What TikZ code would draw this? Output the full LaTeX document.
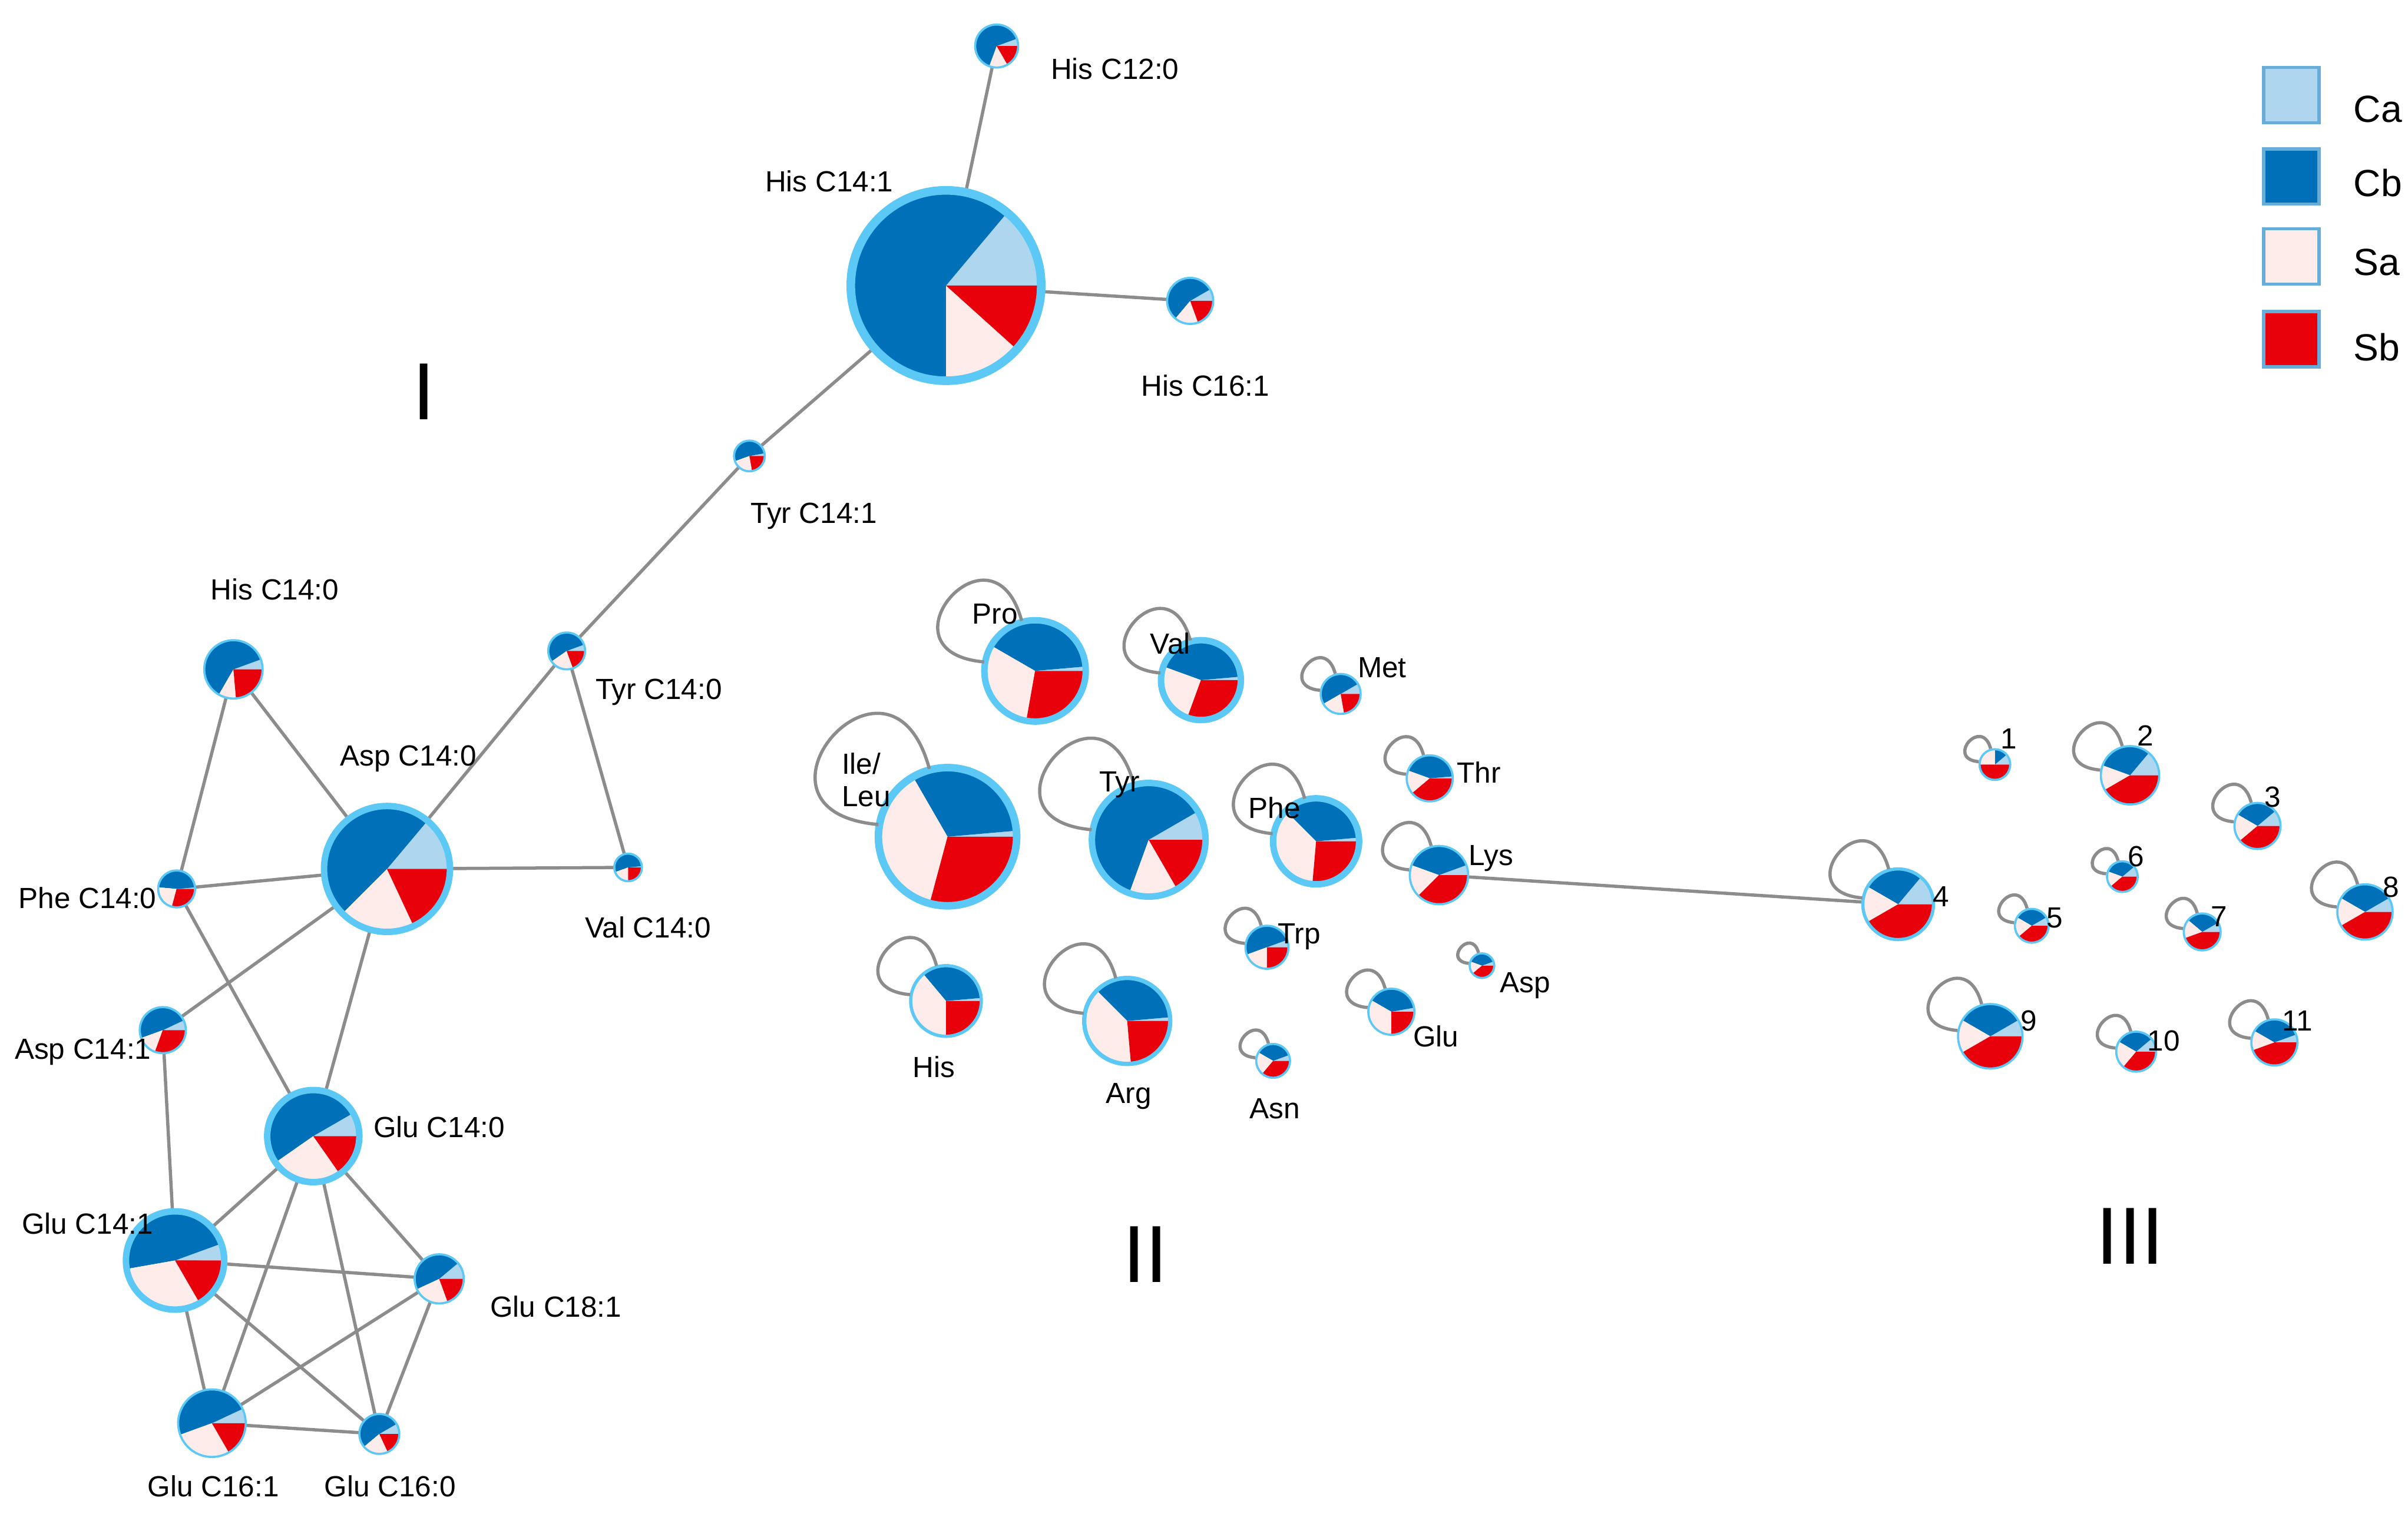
\documentclass[tikz,border=0pt]{standalone}
\usepackage{fontspec}
\setmainfont{Liberation Sans}
\definecolor{Ca}{HTML}{AED6EE}
\definecolor{Cb}{HTML}{0070B8}
\definecolor{Sa}{HTML}{FDECEA}
\definecolor{Sb}{HTML}{E8000B}
\definecolor{ringc}{HTML}{5BC8F5}
\definecolor{edgec}{HTML}{8C8C8C}
\tikzset{edge/.style={draw=edgec,line width=0.6pt},
 loopst/.style={draw=edgec,line width=0.6pt},
 lab/.style={font=\fontsize{5.4pt}{6pt}\selectfont,inner sep=0},
 roman/.style={font=\fontsize{15pt}{16pt}\selectfont,inner sep=0}}
% name x y r a b c ringwidth
\newcommand\mypie[8]{%
 \node[circle,minimum size=#4*0.02cm,inner sep=0] (#1) at (#2,#3) {};
 \fill[Ca] (#2,#3) -- ++(0:#4*0.01cm) arc[start angle=0,end angle=#5,radius=#4*0.01cm] -- cycle;
 \fill[Cb] (#2,#3) -- ++(#5:#4*0.01cm) arc[start angle=#5,end angle=#6,radius=#4*0.01cm] -- cycle;
 \fill[Sa] (#2,#3) -- ++(#6:#4*0.01cm) arc[start angle=#6,end angle=#7,radius=#4*0.01cm] -- cycle;
 \fill[Sb] (#2,#3) -- ++(#7:#4*0.01cm) arc[start angle=#7,end angle=360,radius=#4*0.01cm] -- cycle;
 \draw[ringc,line width=#8] (#2,#3) circle[radius=#4*0.01cm];}
\newcommand\myloop[2]{\draw[loopst] (#1.105) .. controls +(105:#2*0.022cm) and +(175:#2*0.022cm) .. (#1.170);}
\begin{document}
\begin{tikzpicture}[x=0.01cm,y=-0.01cm]
\useasboundingbox (0,0) rectangle (1568,986);
\coordinate (a1) at (649,30); \coordinate (a2) at (616,186); \coordinate (a3) at (775,196);
\coordinate (a4) at (488,297); \coordinate (a5) at (369,424); \coordinate (a6) at (409,565);
\coordinate (a7) at (152,436); \coordinate (a8) at (252,566); \coordinate (a9) at (115,579);
\coordinate (a10) at (106,671); \coordinate (a11) at (204,740); \coordinate (a12) at (114,821);
\coordinate (a13) at (286,833); \coordinate (a14) at (138,927); \coordinate (a15) at (247,934);
\coordinate (lysc) at (937,570); \coordinate (nfc) at (1236,589);
\foreach \ua/\va in {a1/a2,a2/a3,a2/a4,a4/a5,a5/a8,a5/a6,a8/a6,a7/a8,a7/a9,a9/a8,a8/a11,a9/a11,a8/a10,a10/a12,a11/a12,a11/a13,a11/a14,a11/a15,a12/a13,a12/a14,a12/a15,a13/a14,a13/a15,a14/a15,lysc/nfc}
 {\draw[edge] (\ua) -- (\va);}
% group I pies
\mypie{hisca}{649}{30}{14}{20}{250}{300}{0.4pt}
\mypie{hiscb}{616}{186}{62}{50}{270}{318}{1.6pt}
\mypie{hiscc}{775}{196}{15}{30}{230}{290}{0.4pt}
\mypie{tyrca}{488}{297}{10}{10}{200}{280}{0.4pt}
\mypie{tyrcb}{369}{424}{12}{20}{215}{290}{0.4pt}
\mypie{valca}{409}{565}{9}{5}{200}{270}{0.4pt}
\mypie{hiscd}{152}{436}{19}{20}{240}{275}{0.4pt}
\mypie{aspca}{252}{566}{41}{50}{225}{295}{1.2pt}
\mypie{pheca}{115}{579}{12}{5}{175}{255}{0.4pt}
\mypie{aspcb}{106}{671}{15}{25}{200}{250}{0.4pt}
\mypie{gluca}{204}{740}{30}{30}{215}{305}{1.2pt}
\mypie{glucb}{114}{821}{32}{20}{190}{300}{1.2pt}
\mypie{glucc}{286}{833}{16}{40}{205}{290}{0.4pt}
\mypie{glucd}{138}{927}{22}{25}{200}{300}{0.4pt}
\mypie{gluce}{247}{934}{13}{30}{220}{295}{0.4pt}
% group II
\mypie{pro}{674}{437}{33}{5}{150}{260}{1.2pt}
\mypie{val}{782}{443}{26}{5}{160}{250}{1.2pt}
\mypie{met}{873}{452}{13}{30}{210}{280}{0.4pt}
\mypie{ile}{617}{545}{45}{5}{120}{255}{1.4pt}
\mypie{tyr}{748}{547}{37}{30}{250}{300}{1.2pt}
\mypie{phe}{857}{548}{28}{5}{135}{265}{1.2pt}
\mypie{thr}{931}{507}{15}{5}{160}{220}{0.4pt}
\mypie{lys}{937}{570}{19}{20}{160}{225}{0.4pt}
\mypie{trp}{825}{617}{14}{20}{200}{270}{0.4pt}
\mypie{hisx}{616}{652}{23}{5}{130}{270}{0.6pt}
\mypie{arg}{734}{665}{28}{5}{135}{275}{0.8pt}
\mypie{glux}{906}{659}{15}{10}{150}{270}{0.4pt}
\mypie{aspx}{965}{629}{8}{20}{160}{220}{0.4pt}
\mypie{asn}{829}{691}{11}{20}{150}{230}{0.4pt}
\myloop{pro}{33}\myloop{val}{26}\myloop{met}{13}\myloop{ile}{45}\myloop{tyr}{37}
\myloop{phe}{28}\myloop{thr}{15}\myloop{lys}{19}\myloop{trp}{14}\myloop{hisx}{23}
\myloop{arg}{28}\myloop{glux}{15}\myloop{aspx}{8}\myloop{asn}{11}
% group III
\mypie{na}{1299}{498}{10}{40}{90}{180}{0.4pt}
\mypie{nb}{1387}{505}{19}{50}{160}{210}{0.4pt}
\mypie{nc}{1470}{538}{15}{40}{150}{220}{0.4pt}
\mypie{nf}{1382}{571}{10}{40}{160}{220}{0.4pt}
\mypie{nd}{1236}{589}{23}{50}{150}{210}{0.6pt}
\mypie{ne}{1323}{603}{11}{30}{150}{220}{0.4pt}
\mypie{ng}{1434}{607}{12}{30}{140}{200}{0.4pt}
\mypie{nh}{1540}{594}{18}{30}{150}{210}{0.4pt}
\mypie{ni}{1296}{675}{21}{30}{150}{210}{0.4pt}
\mypie{nj}{1391}{685}{13}{40}{150}{230}{0.4pt}
\mypie{nk}{1481}{679}{15}{20}{150}{200}{0.4pt}
\myloop{na}{10}\myloop{nb}{19}\myloop{nc}{15}\myloop{nf}{10}\myloop{nd}{23}\myloop{ne}{11}
\myloop{ng}{12}\myloop{nh}{18}\myloop{ni}{21}\myloop{nj}{13}\myloop{nk}{15}
% labels
\foreach \lx/\ly/\lt in {726/45/His C12:0,540/118/His C14:1,785/251/His C16:1,530/336/Tyr C14:1,429/451/Tyr C14:0,422/604/Val C14:0,179/384/His C14:0,266/494/Asp C14:0,57/585/Phe C14:0,54/685/Asp C14:1,286/734/Glu C14:0,57/797/Glu C14:1,362/851/Glu C18:1,139/968/Glu C16:1,254/968/Glu C16:0,648/400/Pro,762/419/Val,900/435/Met,729/511/Tyr,830/526/Phe,963/503/Thr,971/559/Lys,846/610/Trp,608/695/His,735/714/Arg,935/675/Glu,993/642/Asp,830/722/Asn,1308/481/1,1397/479/2,1480/519/3,1391/558/6,1264/584/4,1338/598/5,1445/597/7,1557/578/8,1321/665/9,1409/678/10,1496/665/11}
 {\node[lab] at (\lx,\ly) {\lt};}
\node[lab,align=left] at (564,508) {Ile/\\Leu};
\node[roman] at (276,255) {I};
\node[roman] at (746,817) {II};
\node[roman] at (1387,805) {III};
% legend
\draw[fill=Ca,draw=Ca!60!Cb,line width=0.6pt] (1474,44) rectangle (1510,80);
\draw[fill=Cb,draw=Ca!60!Cb,line width=0.6pt] (1474,97) rectangle (1510,133);
\draw[fill=Sa,draw=Ca!60!Cb,line width=0.6pt] (1474,149) rectangle (1510,185);
\draw[fill=Sb,draw=Ca!60!Cb,line width=0.6pt] (1474,203) rectangle (1510,239);
\node[lab,font=\fontsize{7pt}{8pt}\selectfont,anchor=west] at (1532,71) {Ca};
\node[lab,font=\fontsize{7pt}{8pt}\selectfont,anchor=west] at (1532,119) {Cb};
\node[lab,font=\fontsize{7pt}{8pt}\selectfont,anchor=west] at (1532,171) {Sa};
\node[lab,font=\fontsize{7pt}{8pt}\selectfont,anchor=west] at (1532,226) {Sb};
\end{tikzpicture}
\end{document}
